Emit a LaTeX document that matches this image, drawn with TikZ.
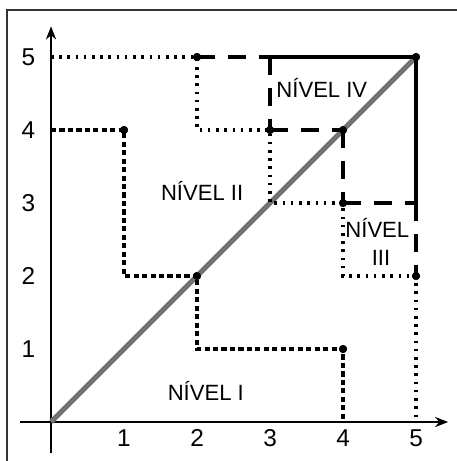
\documentclass[tikz,border=0pt]{standalone}
\usepackage{fontspec}
\setmainfont{Liberation Sans}
\usetikzlibrary{arrows.meta}
\tikzset{
  frm/.style     ={line width=0.5pt, black!80},
  axis/.style    ={-{Stealth[length=1.8mm, width=1.4mm]}, line width=0.7pt},
  diag/.style    ={line width=2pt, black!55},
  lvlone/.style  ={line width=1.3pt, dash pattern=on 2pt off 1.3pt},      % nivel I
  lvltwo/.style  ={line width=1.3pt, dash pattern=on 1pt off 2.2pt},      % nivel II
  lvlthree/.style={line width=1.3pt, dash pattern=on 7pt off 5pt},        % nivel III
  lvlfour/.style ={line width=1.2pt},                                     % nivel IV
  pt/.style      ={circle, fill, inner sep=0pt, minimum size=1.1mm},
  tick/.style    ={font=\fontsize{9.5}{11}\selectfont},
  lvl/.style     ={font=\fontsize{8.6}{11}\selectfont, anchor=base, inner sep=0pt},
}
\begin{document}
\begin{tikzpicture}
  \useasboundingbox (-0.699,-0.534) rectangle (5.548,5.781);
  \draw[frm] (-0.603,-0.7) |- (5.7,5.644);

  % axes
  \coordinate (o)  at (0,0);
  \coordinate (xs) at (-0.42,0);
  \coordinate (xe) at (5.44,0);
  \coordinate (ys) at (0,-0.42);
  \coordinate (ye) at (0,5.42);
  \draw[axis] (xs) -- (xe);
  \draw[axis] (ys) -- (ye);
  \foreach \k in {1,...,5} {
    \node[tick] (xl\k) at (\k,-0.22) {\k};
    \node[tick] (yl\k) at (-0.31,\k) {\k};
  }

  % corners and marked points
  \coordinate (c04) at (0,4);
  \coordinate (c05) at (0,5);
  \coordinate (c12) at (1,2);
  \coordinate (c21) at (2,1);
  \coordinate (c24) at (2,4);
  \coordinate (c33) at (3,3);
  \coordinate (c35) at (3,5);
  \coordinate (c40) at (4,0);
  \coordinate (c42) at (4,2);
  \coordinate (c50) at (5,0);
  \coordinate (c53) at (5,3);
  \node[pt] (p14) at (1,4) {};
  \node[pt] (p22) at (2,2) {};
  \node[pt] (p41) at (4,1) {};
  \node[pt] (p25) at (2,5) {};
  \node[pt] (p34) at (3,4) {};
  \node[pt] (p43) at (4,3) {};
  \node[pt] (p52) at (5,2) {};
  \node[pt] (p44) at (4,4) {};
  \node[pt] (p55) at (5,5) {};

  \draw[diag] (o) -- (p55.center);

  \draw[lvlone] (c04) -- (p14.center) -- (c12) -- (p22.center) -- (c21) -- (p41.center) -- (c40);
  \draw[lvltwo] (c05) -- (p25.center) -- (c24) -- (p34.center) -- (c33) -- (p43.center)
    -- (c42) -- (p52.center) -- (c50);
  \draw[lvlthree] (p25.center) -- (c35);
  \draw[lvlthree] (c35) -- (p34.center);
  \draw[lvlthree] (p34.center) -- (p44.center);
  \draw[lvlthree] (p44.center) -- (p43.center);
  \draw[lvlthree] (p43.center) -- (c53);
  \draw[lvlthree] (c53) -- (p52.center);
  \draw[lvlfour] (c35) -- (p55.center) -- (c53);

  \foreach \p in {p14,p22,p41,p25,p34,p43,p52,p44,p55}
    \fill (\p) circle (0.55mm);

  % labels
  \node[lvl] (nI)    at (2.12,0.30) {NÍVEL I};
  \node[lvl] (nII)   at (2.07,3.04) {NÍVEL II};
  \node[lvl] (nIIIa) at (4.47,2.53) {NÍVEL};
  \node[lvl] (nIIIb) at (4.52,2.15) {III};
  \node[lvl] (nIV)   at (3.71,4.44) {NÍVEL IV};
\end{tikzpicture}
\end{document}
